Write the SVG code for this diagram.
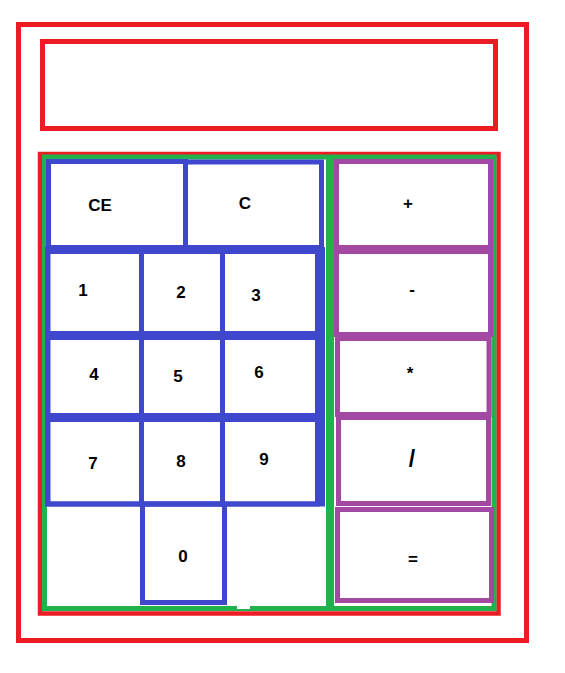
<svg xmlns="http://www.w3.org/2000/svg" width="565" height="673" viewBox="0 0 565 673">
<style>
.red{fill:none;stroke:#ED1C24;stroke-width:5}
.grn{fill:none;stroke:#22B14C;stroke-width:5}
.blu{fill:none;stroke:#3F48CC;stroke-width:5}
.pur{fill:none;stroke:#A349A4;stroke-width:5}
text{font-family:"Liberation Sans",Arial,sans-serif;font-weight:bold;font-size:17px;fill:#000;text-anchor:middle}
</style>
<rect width="565" height="673" fill="#fff"/>
<g id="body"><rect class="red" x="18.5" y="24.5" width="508" height="616"/></g>
<g id="display"><rect class="red" x="42.5" y="41.5" width="453" height="87"/></g>
<g id="keypad">
<rect class="red" x="40" y="154" width="458.5" height="459.5" style="stroke-width:4.5"/>
<rect class="grn" x="44.5" y="157" width="449.5" height="451.5"/>
<line x1="330" y1="157" x2="330" y2="608" stroke="#22B14C" stroke-width="8"/>
<rect x="237" y="605.5" width="13" height="3.5" fill="#fff"/>
</g>
<g id="numframe"><rect class="blu" x="47.5" y="249.5" width="275" height="254.5"/></g>
<g id="key-ce"><rect class="blu" x="48.5" y="161.5" width="137" height="86"/><text x="100" y="211">CE</text></g>
<g id="key-c"><rect class="blu" x="185.5" y="162" width="136" height="85.5"/><text x="245" y="209">C</text></g>
<g id="key-1"><rect class="blu" x="48" y="251.5" width="93.5" height="82"/><text x="83" y="296">1</text></g>
<g id="key-2"><rect class="blu" x="141.5" y="251.5" width="81" height="82"/><text x="181" y="298">2</text></g>
<g id="key-3"><rect class="blu" x="222.5" y="251.5" width="95" height="82"/><text x="256" y="301">3</text></g>
<g id="key-4"><rect class="blu" x="48" y="337.5" width="93.5" height="78"/><text x="94" y="380">4</text></g>
<g id="key-5"><rect class="blu" x="141.5" y="337.5" width="81" height="78"/><text x="178" y="382">5</text></g>
<g id="key-6"><rect class="blu" x="222.5" y="337.5" width="95" height="78"/><text x="259" y="378">6</text></g>
<g id="key-7"><rect class="blu" x="48" y="419.5" width="93.5" height="84.5"/><text x="93" y="469">7</text></g>
<g id="key-8"><rect class="blu" x="141.5" y="419.5" width="81" height="84.5"/><text x="181" y="467">8</text></g>
<g id="key-9"><rect class="blu" x="222.5" y="419.5" width="95" height="84.5"/><text x="264" y="465">9</text></g>
<g id="key-0"><rect class="blu" x="142.5" y="504" width="82" height="98.5"/><text x="183" y="562">0</text></g>
<g id="key-plus"><rect class="pur" x="336.5" y="161.5" width="154" height="86"/><text x="408" y="209">+</text></g>
<g id="key-minus"><rect class="pur" x="336.5" y="251.5" width="154" height="83"/><text x="412" y="295">-</text></g>
<g id="key-mul"><rect class="pur" x="337.5" y="338.5" width="151.5" height="76"/><text x="410" y="379">*</text></g>
<g id="key-div"><rect class="pur" x="338.5" y="417.5" width="150" height="86"/><text x="412" y="467" style="font-size:23px">/</text></g>
<g id="key-eq"><rect class="pur" x="337.5" y="509.5" width="154" height="91"/><text x="413" y="565">=</text></g>
</svg>
